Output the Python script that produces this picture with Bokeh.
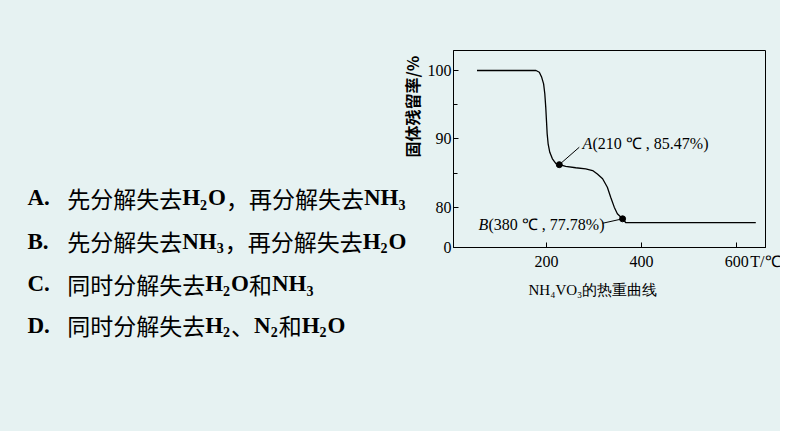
from math import pi
from bokeh.plotting import figure
from bokeh.layouts import row
from bokeh.models import Label, FixedTicker, Range1d, Title
from bokeh.embed import file_html
from bokeh.resources import INLINE

# ---------------- data ----------------
temp_c = [54, 178, 185, 190, 194, 196.5, 198.5, 200, 201.5, 203.5, 207, 212.5,
          219.5, 227, 240.5, 261.5, 282.5, 297, 307, 318, 328, 335, 342.5, 349,
          360, 367, 640]
residue_pct = [100, 100, 99.75, 99.0, 98.05, 96.6, 94.65, 92.7, 90.75, 89.3,
               88.05, 87.1, 86.45, 86.25, 86.0, 85.8, 85.65, 85.4, 84.9, 84.2,
               82.95, 81.5, 80.05, 79.1, 78.35, 77.78, 77.78]

point_names = ["A", "B"]
point_temp = [227, 360]
point_pct = [86.25, 78.35]
point_texts = ["(210 \u2103 , 85.47%)", "(380 \u2103 , 77.78%)"]

x_ticks = [200, 400, 600]
y_ticks = [80, 90, 100]
y_minor_ticks = [85, 95]
y_break_label = "0"
x_unit_label = "T/\u2103"
y_title = "固体残留率/%"
caption = "NH\u2084VO\u2083的热重曲线"

option_letters = ["A", "B", "C", "D"]
option_segments = [
    [("cjk", "先分解失去"), ("lat", "H"), ("sub", "2"), ("lat", "O"), ("cjk", "，再分解失去"), ("lat", "NH"), ("sub", "3")],
    [("cjk", "先分解失去"), ("lat", "NH"), ("sub", "3"), ("cjk", "，再分解失去"), ("lat", "H"), ("sub", "2"), ("lat", "O")],
    [("cjk", "同时分解失去"), ("lat", "H"), ("sub", "2"), ("lat", "O"), ("cjk", "和"), ("lat", "NH"), ("sub", "3")],
    [("cjk", "同时分解失去"), ("lat", "H"), ("sub", "2"), ("cjk", "、"), ("lat", "N"), ("sub", "2"), ("cjk", "和"), ("lat", "H"), ("sub", "2"), ("lat", "O")],
]

# ---------------- layout / style ----------------
BG = "#e6f2f2"
H = 431
TEXT_W = 424
X0, X1 = 4.6, 660.4
Y0, Y1 = 74.16, 102.92

# ----- left panel: answer options (+ the chart's rotated y title) -----
tf = figure(width=TEXT_W, height=H, x_range=Range1d(0, TEXT_W), y_range=Range1d(H, 0),
            x_axis_location=None, y_axis_location=None, min_border=0,
            output_backend="svg", toolbar_location=None,
            background_fill_color=BG, border_fill_color=BG)
tf.grid.visible = False
tf.outline_line_color = None
tf.frame_align = False

LAT_W = {"A": 0.722, "B": 0.667, "C": 0.722, "D": 0.722, "H": 0.778, "N": 0.722, "O": 0.778}
FS = 23
SUB_FS = 14
SUB_DY = 7
SUB_W = 8
line_y = [197, 240.5, 283, 324.5]

for letter, segs, yy in zip(option_letters, option_segments, line_y):
    tf.add_layout(Label(x=27, y=yy, text=letter + ".", text_font="Liberation Serif",
                        text_font_style="bold", text_font_size=f"{FS}px",
                        text_baseline="middle", text_color="black"))
    x = 66.7
    for kind, txt in segs:
        if kind == "cjk":
            font, style, size, dy = "Noto Sans CJK SC", "normal", FS, 0
            w = FS * len(txt)
        elif kind == "lat":
            font, style, size, dy = "Liberation Serif", "bold", FS, 0
            w = sum(LAT_W[c] for c in txt) * FS
        else:
            font, style, size, dy = "Liberation Serif", "bold", SUB_FS, SUB_DY
            w = SUB_W * len(txt)
        tf.add_layout(Label(x=x, y=yy + dy, text=txt, text_font=font, text_font_style=style,
                            text_font_size=f"{size}px", text_baseline="middle", text_color="black"))
        x += w

tf.add_layout(Label(x=411.5, y=157, text=y_title, angle=pi / 2, text_font="Noto Sans CJK SC",
                    text_font_style="bold", text_font_size="16px", text_align="left",
                    text_baseline="middle", text_color="black"))

# ----- right panel: thermogravimetric curve -----
p = figure(frame_width=312, frame_height=197, output_backend="svg", toolbar_location=None,
           x_range=Range1d(X0, X1), y_range=Range1d(Y0, Y1),
           min_border_left=27, min_border_right=15, min_border_top=50, min_border_bottom=184,
           background_fill_color=BG, border_fill_color=BG)
p.frame_align = False
p.outline_line_color = "black"
p.outline_line_width = 1
p.grid.visible = False

for ax in (p.xaxis[0], p.yaxis[0]):
    ax.axis_line_color = "black"
    ax.major_tick_line_color = "black"
    ax.minor_tick_line_color = "black"
    ax.major_tick_in = 5
    ax.major_tick_out = 0
    ax.minor_tick_in = 4
    ax.minor_tick_out = 0
    ax.major_label_text_font = "Liberation Serif"
    ax.major_label_text_font_size = "16px"
    ax.major_label_text_color = "black"

p.xaxis.ticker = FixedTicker(ticks=x_ticks + [X1], minor_ticks=[])
p.xaxis.major_label_overrides = {X1: x_unit_label}
p.xaxis.major_label_standoff = 5
p.yaxis.ticker = FixedTicker(ticks=[Y0] + y_ticks, minor_ticks=y_minor_ticks)
p.yaxis.major_label_overrides = {Y0: y_break_label}
p.yaxis.major_label_standoff = 2

p.add_layout(Title(text=caption, align="left", offset=75, standoff=15,
                   text_font="Liberation Serif", text_font_style="normal",
                   text_font_size="15px", text_color="black"), "below")

p.line(temp_c, residue_pct, line_color="black", line_width=1.3)

# leader lines from points to their labels
leader_end_temp = [269, 318]
leader_end_pct = [88.8, 77.7]
p.segment(x0=point_temp, y0=point_pct, x1=leader_end_temp, y1=leader_end_pct,
          line_color="black", line_width=1)
p.scatter(point_temp, point_pct, size=6, color="black")

label_temp = [275.7, 57.2]
label_pct = [89.3, 77.45]
for name, txt, lx, ly in zip(point_names, point_texts, label_temp, label_pct):
    p.add_layout(Label(x=lx, y=ly, text=name, text_font="Liberation Serif", text_font_style="italic",
                       text_font_size="16px", text_baseline="middle", text_color="black"))
    p.add_layout(Label(x=lx, y=ly, x_offset=10, text=txt, text_font="Liberation Serif",
                       text_font_size="16px", text_baseline="middle", text_color="black"))

layout = row(tf, p, spacing=0, styles={"background-color": BG})
open("out.html", "w").write(file_html(layout, INLINE))
